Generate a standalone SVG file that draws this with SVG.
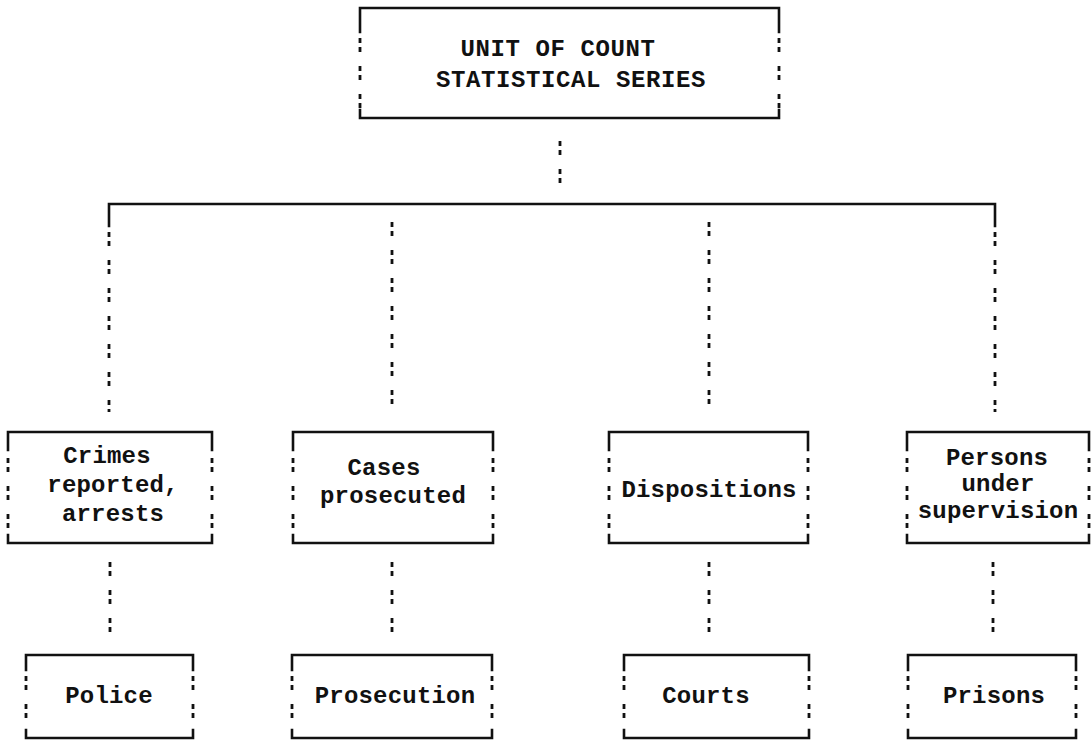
<svg xmlns="http://www.w3.org/2000/svg" width="1092" height="740" viewBox="0 0 1092 740">
  <style>
    .solid { fill: none; stroke: #111; stroke-width: 2.6; stroke-linecap: square; }
    .dots { fill: none; stroke: #111; stroke-width: 2.8; stroke-dasharray: 5 4 5 14; }
    text { font-family: "Liberation Mono", "DejaVu Sans Mono", monospace; font-weight: bold; font-size: 24px; fill: #111; text-anchor: middle; letter-spacing: 0.2px; }
    .head { letter-spacing: 0.6px; }
  </style>
  <rect width="1092" height="740" fill="#fff"/>

  <!-- connectors -->
  <g id="connectors">
    <path class="dots" d="M560 141 V186"/>
    <path class="solid" d="M109 226 V204 H995 V226"/>
    <path class="dots" d="M109 232 V412 M995 232 V412 M392 222 V412 M709 222 V412"/>
    <path class="dots" d="M110 562 V634 M392 562 V634 M709 562 V634 M993 562 V634"/>
  </g>

  <g id="unit-of-count">
    <path class="solid" d="M360 32 V8 H779 V32 M360 110 V118 H779 V110"/>
    <path class="dots" d="M360 38 V108 M779 38 V108"/>
    <text class="head" x="558" y="56">UNIT OF COUNT</text>
    <text class="head" x="571" y="87">STATISTICAL SERIES</text>
  </g>

  <g id="crimes">
    <path class="solid" d="M8 450 V432 H212 V450 M8 535 V543 H212 V535"/>
    <path class="dots" d="M8 458 V533 M212 458 V533"/>
    <text x="107" y="463">Crimes</text>
    <text x="113" y="492">reported,</text>
    <text x="113" y="521">arrests</text>
  </g>

  <g id="cases">
    <path class="solid" d="M293 450 V432 H493 V450 M293 535 V543 H493 V535"/>
    <path class="dots" d="M293 458 V533 M493 458 V533"/>
    <text x="384" y="475">Cases</text>
    <text x="393" y="503">prosecuted</text>
  </g>

  <g id="dispositions">
    <path class="solid" d="M609 450 V432 H808 V450 M609 535 V543 H808 V535"/>
    <path class="dots" d="M609 458 V533 M808 458 V533"/>
    <text x="709" y="497">Dispositions</text>
  </g>

  <g id="persons">
    <path class="solid" d="M907 450 V432 H1089 V450 M907 535 V543 H1089 V535"/>
    <path class="dots" d="M907 458 V533 M1089 458 V533"/>
    <text x="997" y="465">Persons</text>
    <text x="998" y="491">under</text>
    <text x="998" y="518">supervision</text>
  </g>

  <g id="police">
    <path class="solid" d="M26 670 V655 H193 V670 M26 730 V738 H193 V730"/>
    <path class="dots" d="M26 676 V728 M193 676 V728"/>
    <text x="109" y="703">Police</text>
  </g>

  <g id="prosecution">
    <path class="solid" d="M292 670 V655 H492 V670 M292 730 V738 H492 V730"/>
    <path class="dots" d="M292 676 V728 M492 676 V728"/>
    <text x="395" y="703">Prosecution</text>
  </g>

  <g id="courts">
    <path class="solid" d="M624 670 V655 H809 V670 M624 730 V738 H809 V730"/>
    <path class="dots" d="M624 676 V728 M809 676 V728"/>
    <text x="706" y="703">Courts</text>
  </g>

  <g id="prisons">
    <path class="solid" d="M908 670 V655 H1076 V670 M908 730 V738 H1076 V730"/>
    <path class="dots" d="M908 676 V728 M1076 676 V728"/>
    <text x="994" y="703">Prisons</text>
  </g>
</svg>
